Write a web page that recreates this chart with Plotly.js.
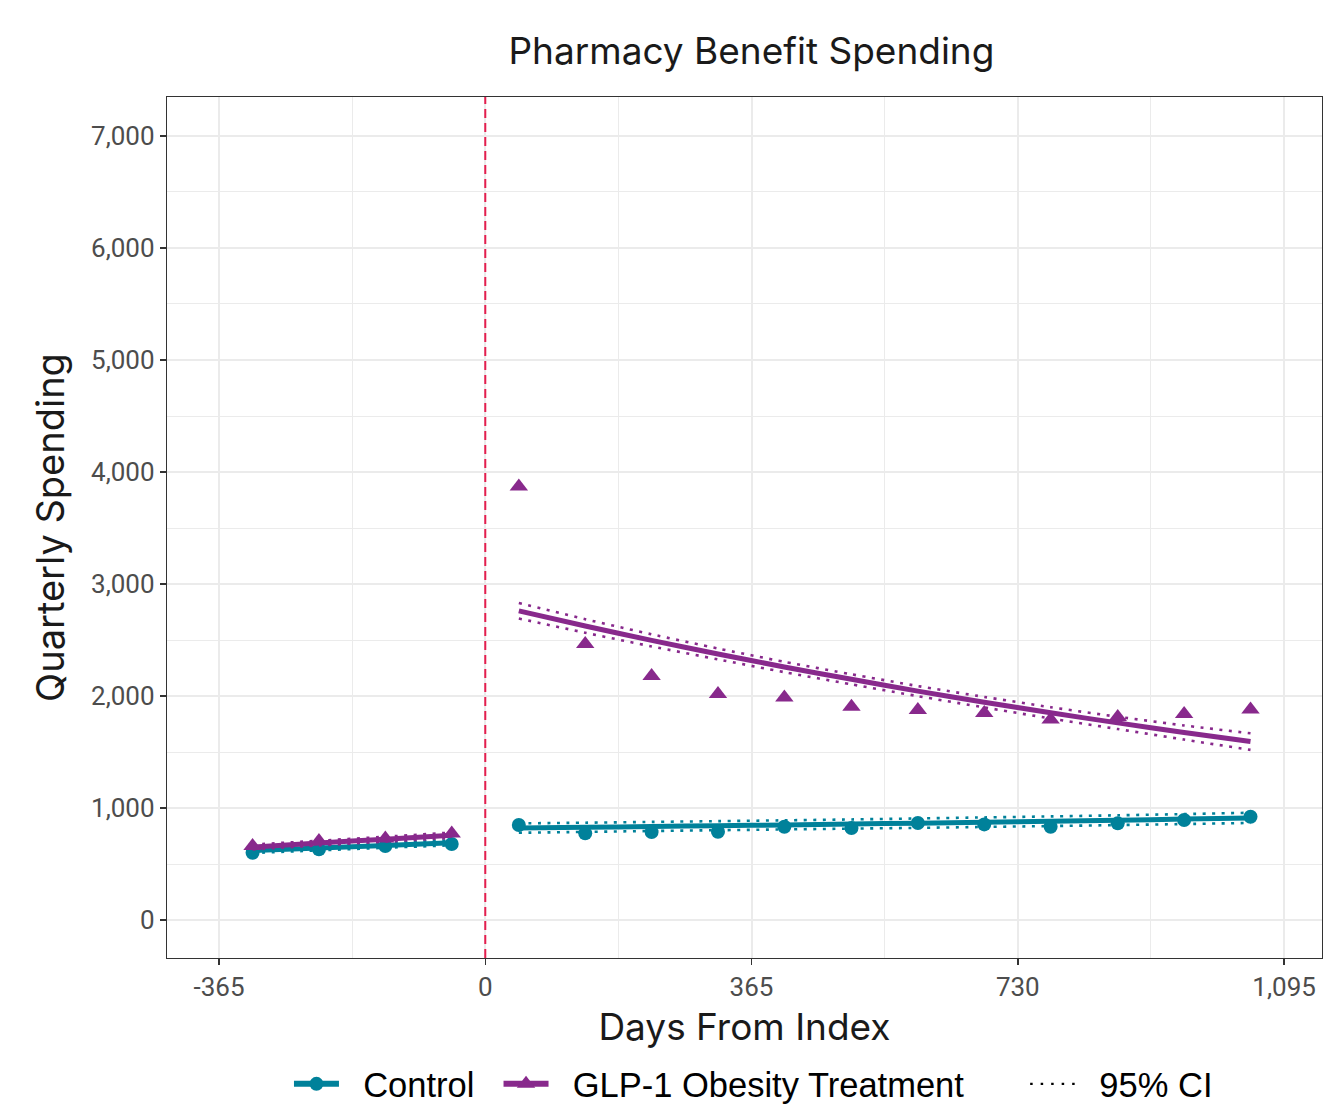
<!DOCTYPE html>
<html>
<head>
<meta charset="utf-8">
<script src="https://cdn.plot.ly/plotly-3.0.1.min.js"></script>
<style>
  html, body { margin: 0; padding: 0; background: #ffffff; }
  #chart { width: 1323px; height: 1110px; }
</style>
</head>
<body>
<div id="chart"></div>
<script>
// Quarter midpoints, days relative to the index date
const preDays  = [-319, -228, -137, -46];
const postDays = [46, 137, 228, 319, 410, 502, 593, 684, 775, 867, 958, 1049];

// Observed quarterly pharmacy spending
const controlPre  = [601, 631, 661, 679];
const glpPre      = [661, 705, 728, 772];
const controlPost = [848, 774, 785, 788, 833, 821, 866, 854, 833, 863, 893, 922];
const glpPost     = [3870, 2464, 2179, 2018, 1987, 1904, 1875, 1848, 1790, 1812, 1839, 1879];

// Fitted trends with 95% confidence bounds
const controlPreFit = [620, 643, 666, 690];
const controlPreLo  = [598, 622, 645, 667];
const controlPreHi  = [642, 664, 687, 713];
const glpPreFit     = [652, 687, 722, 757];
const glpPreLo      = [630, 666, 700, 733];
const glpPreHi      = [674, 708, 744, 781];

const controlPostFit = [821, 828, 835, 842, 849, 857, 865, 873, 882, 891, 901, 912];
const controlPostLo  = [779, 787, 795, 802, 809, 816, 823, 831, 839, 848, 857, 867];
const controlPostHi  = [863, 869, 876, 883, 890, 898, 907, 916, 925, 935, 946, 958];
const glpPostFit     = [2760, 2625, 2497, 2375, 2259, 2149, 2044, 1945, 1850, 1760, 1674, 1593];
const glpPostLo      = [2692, 2565, 2443, 2327, 2213, 2104, 1999, 1898, 1800, 1705, 1611, 1519];
const glpPostHi      = [2830, 2686, 2551, 2424, 2305, 2194, 2089, 1992, 1900, 1815, 1737, 1667];

const xTicks = [-365, 0, 365, 730, 1095];
const xTickText = ['-365', '0', '365', '730', '1,095'];
const yTicks = [0, 1000, 2000, 3000, 4000, 5000, 6000, 7000];
const yTickText = ['0', '1,000', '2,000', '3,000', '4,000', '5,000', '6,000', '7,000'];

const TEAL = '#00819a';
const PURPLE = '#88298c';
const CI_DASH = '3px,6.5px';
const NB = '\u00a0\u00a0';

function fitLine(x, y, color) {
  return { x: x, y: y, type: 'scatter', mode: 'lines', showlegend: false, hoverinfo: 'skip',
           line: { color: color, width: 5, shape: 'spline', smoothing: 0.6 } };
}
function ciLine(x, y, color) {
  return { x: x, y: y, type: 'scatter', mode: 'lines', showlegend: false, hoverinfo: 'skip',
           line: { color: color, width: 2.6, dash: CI_DASH, shape: 'spline', smoothing: 0.6 } };
}
function points(x, y, color, symbol, size) {
  return { x: x, y: y, type: 'scatter', mode: 'markers', showlegend: false,
           marker: { color: color, symbol: symbol, size: size, line: { width: 0 } } };
}

const traces = [
  // control group
  ciLine(preDays, controlPreLo, TEAL), ciLine(preDays, controlPreHi, TEAL),
  ciLine(postDays, controlPostLo, TEAL), ciLine(postDays, controlPostHi, TEAL),
  fitLine(preDays, controlPreFit, TEAL), fitLine(postDays, controlPostFit, TEAL),
  points(preDays, controlPre, TEAL, 'circle', 14), points(postDays, controlPost, TEAL, 'circle', 14),
  // GLP-1 group
  ciLine(preDays, glpPreLo, PURPLE), ciLine(preDays, glpPreHi, PURPLE),
  ciLine(postDays, glpPostLo, PURPLE), ciLine(postDays, glpPostHi, PURPLE),
  fitLine(preDays, glpPreFit, PURPLE), fitLine(postDays, glpPostFit, PURPLE),
  points(preDays, glpPre, PURPLE, 'triangle-up', 16), points(postDays, glpPost, PURPLE, 'triangle-up', 16),
  // legend keys
  { x: [null], y: [null], type: 'scatter', mode: 'lines+markers', name: NB + 'Control' + NB, legend: 'legend',
    line: { color: TEAL, width: 6 }, marker: { color: TEAL, symbol: 'circle', size: 14 } },
  { x: [null], y: [null], type: 'scatter', mode: 'lines+markers', name: NB + 'GLP-1 Obesity Treatment', legend: 'legend',
    line: { color: PURPLE, width: 6 }, marker: { color: PURPLE, symbol: 'triangle-up', size: 16 } },
  { x: [null], y: [null], type: 'scatter', mode: 'lines', name: NB + '95% CI', legend: 'legend2',
    line: { color: '#000000', width: 2.4, dash: '2.5px,8px' } }
];

const TITLE_FONT = 'Inter, "Noto Sans", sans-serif';
const axisCommon = {
  automargin: false,
  showline: true, mirror: true, linecolor: '#333333', linewidth: 1.2,
  ticks: 'outside', ticklen: 6, tickwidth: 1.5, tickcolor: '#333333',
  tickfont: { family: 'Roboto, sans-serif', size: 26, color: '#4d4d4d' },
  showgrid: true, gridcolor: '#ebebeb', gridwidth: 2, zeroline: false
};

const legendCommon = {
  orientation: 'h', xanchor: 'left', yref: 'container', y: 0.0235, yanchor: 'middle',
  font: { family: '"Liberation Sans", Arial, sans-serif', size: 34.5, color: '#000000' },
  bgcolor: 'rgba(0,0,0,0)', itemwidth: 45
};

const layout = {
  width: 1323, height: 1110,
  paper_bgcolor: '#ffffff', plot_bgcolor: '#ffffff',
  margin: { l: 167, r: 1, t: 97, b: 152 },
  title: { text: 'Pharmacy Benefit Spending', x: 0.506, xref: 'paper', xanchor: 'center', y: 0.954, yanchor: 'middle',
           font: { family: TITLE_FONT, size: 37, color: '#1a1a1a' } },
  xaxis: Object.assign({}, axisCommon, {
    range: [-436.3, 1147], tickvals: xTicks, ticktext: xTickText,
    minor: { dtick: 182.5, tick0: 0, showgrid: true, gridcolor: '#ebebeb', gridwidth: 1, ticks: '' },
    title: { text: 'Days From Index', standoff: 12, font: { family: TITLE_FONT, size: 37, color: '#1a1a1a' } }
  }),
  yaxis: Object.assign({}, axisCommon, {
    range: [-339, 7348], tickvals: yTicks, ticktext: yTickText,
    minor: { dtick: 500, tick0: 0, showgrid: true, gridcolor: '#ebebeb', gridwidth: 1, ticks: '' },
    title: { text: 'Quarterly Spending', standoff: 14, font: { family: TITLE_FONT, size: 38, color: '#1a1a1a' } }
  }),
  shapes: [{
    type: 'line', xref: 'x', yref: 'paper', x0: 0, x1: 0, y0: 0, y1: 1,
    line: { color: '#e41e4e', width: 2, dash: '9px,5px' }
  }],
  legend: Object.assign({}, legendCommon, { x: 0.1056 }),
  legend2: Object.assign({}, legendCommon, { x: 0.743 }),
  showlegend: true
};

Plotly.newPlot('chart', traces, layout, { displayModeBar: false, staticPlot: true });
</script>
</body>
</html>
